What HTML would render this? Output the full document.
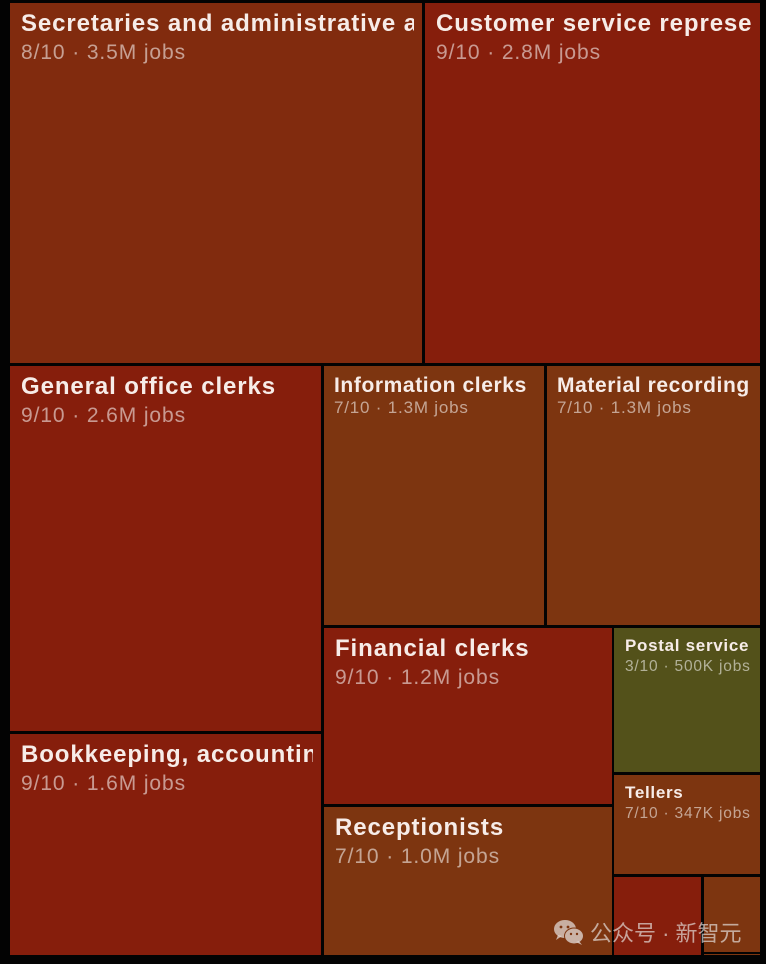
<!DOCTYPE html>
<html><head><meta charset="utf-8"><style>
html,body{margin:0;padding:0;}
body{width:766px;height:964px;background:#030303;position:relative;overflow:hidden;font-family:"Liberation Sans","Noto Sans CJK SC",sans-serif;}
.t{position:absolute;overflow:hidden;}
.r9{background:#861E0C;}
.r8{background:#812B0E;}
.r7{background:#7D3510;}
.r3{background:#53511A;}
.in{position:absolute;left:0;top:0;bottom:0;overflow:hidden;white-space:nowrap;}
.ti{position:absolute;line-height:1;font-weight:bold;color:#F7ECE8;white-space:nowrap;}
.su{position:absolute;line-height:1;color:rgba(255,255,255,0.55);white-space:nowrap;}
.b .ti{font-size:24px;letter-spacing:0.9px;left:11px;top:9px;}
.b .su{font-size:21px;letter-spacing:0.9px;left:11px;top:39px;}
.m .ti{font-size:21px;letter-spacing:0.6px;left:10px;top:8.7px;}
.m .su{font-size:17px;letter-spacing:0.8px;left:10px;top:33px;}
.s .ti{font-size:17px;letter-spacing:0.7px;left:11px;top:8.5px;}
.s .su{font-size:15.5px;letter-spacing:0.8px;left:11px;top:31px;}
</style></head><body>

<div class="t r8 b" style="left:10px;top:3px;width:412px;height:360px;">
 <div class="in" style="right:8px;"><div class="ti">Secretaries and administrative assistants</div><div class="su">8/10 · 3.5M jobs</div></div>
</div>
<div class="t r9 b" style="left:425px;top:3px;width:335px;height:360px;">
 <div class="in" style="right:8px;"><div class="ti">Customer service representatives</div><div class="su">9/10 · 2.8M jobs</div></div>
</div>
<div class="t r9 b" style="left:10px;top:366px;width:311px;height:365px;">
 <div class="in" style="right:8px;"><div class="ti">General office clerks</div><div class="su">9/10 · 2.6M jobs</div></div>
</div>
<div class="t r9 b" style="left:10px;top:734px;width:311px;height:221px;">
 <div class="in" style="right:8px;"><div class="ti">Bookkeeping, accounting, and auditing clerks</div><div class="su">9/10 · 1.6M jobs</div></div>
</div>
<div class="t r7 m" style="left:324px;top:366px;width:220px;height:259px;">
 <div class="in" style="right:6px;"><div class="ti">Information clerks</div><div class="su">7/10 · 1.3M jobs</div></div>
</div>
<div class="t r7 m" style="left:547px;top:366px;width:213px;height:259px;">
 <div class="in" style="right:8px;"><div class="ti">Material recording clerks</div><div class="su">7/10 · 1.3M jobs</div></div>
</div>
<div class="t r9 b" style="left:324px;top:628px;width:288px;height:176px;">
 <div class="in" style="right:8px;"><div class="ti">Financial clerks</div><div class="su">9/10 · 1.2M jobs</div></div>
</div>
<div class="t r7 b" style="left:324px;top:807px;width:288px;height:148px;">
 <div class="in" style="right:8px;"><div class="ti">Receptionists</div><div class="su">7/10 · 1.0M jobs</div></div>
</div>
<div class="t r3 s" style="left:614px;top:628px;width:146px;height:144px;">
 <div class="in" style="right:4px;"><div class="ti">Postal service</div><div class="su">3/10 · 500K jobs</div></div>
</div>
<div class="t r7 s" style="left:614px;top:775px;width:146px;height:99px;">
 <div class="in" style="right:4px;"><div class="ti">Tellers</div><div class="su">7/10 · 347K jobs</div></div>
</div>
<div class="t r9" style="left:614px;top:877px;width:87px;height:78px;"></div>
<div class="t r7" style="left:704px;top:877px;width:56px;height:75px;"></div>
<div class="t r7" style="left:704px;top:954px;width:56px;height:1px;"></div>

<svg style="position:absolute;left:553px;top:919px;" width="34" height="28" viewBox="0 0 34 28">
 <ellipse cx="12" cy="10" rx="11" ry="9" fill="rgba(225,215,210,0.75)"/>
 <path d="M5 16 L3 21 L9 17 Z" fill="rgba(225,215,210,0.75)"/>
 <ellipse cx="21" cy="17" rx="10" ry="8.5" fill="#7D3510" />
 <ellipse cx="21" cy="17" rx="9" ry="7.5" fill="rgba(225,215,210,0.78)"/>
 <path d="M26 22 L29 26 L23 23 Z" fill="rgba(225,215,210,0.78)"/>
 <circle cx="8" cy="8" r="1.4" fill="#7D3510"/>
 <circle cx="15" cy="8" r="1.4" fill="#7D3510"/>
 <circle cx="18" cy="15" r="1.2" fill="#7D3510"/>
 <circle cx="24" cy="15" r="1.2" fill="#7D3510"/>
</svg>
<div style="position:absolute;left:590px;top:921.5px;font-size:22px;line-height:23px;color:rgba(230,225,222,0.68);white-space:nowrap;font-family:'Liberation Sans','Noto Sans CJK SC',sans-serif;">公众号 · 新智元</div>

</body></html>
